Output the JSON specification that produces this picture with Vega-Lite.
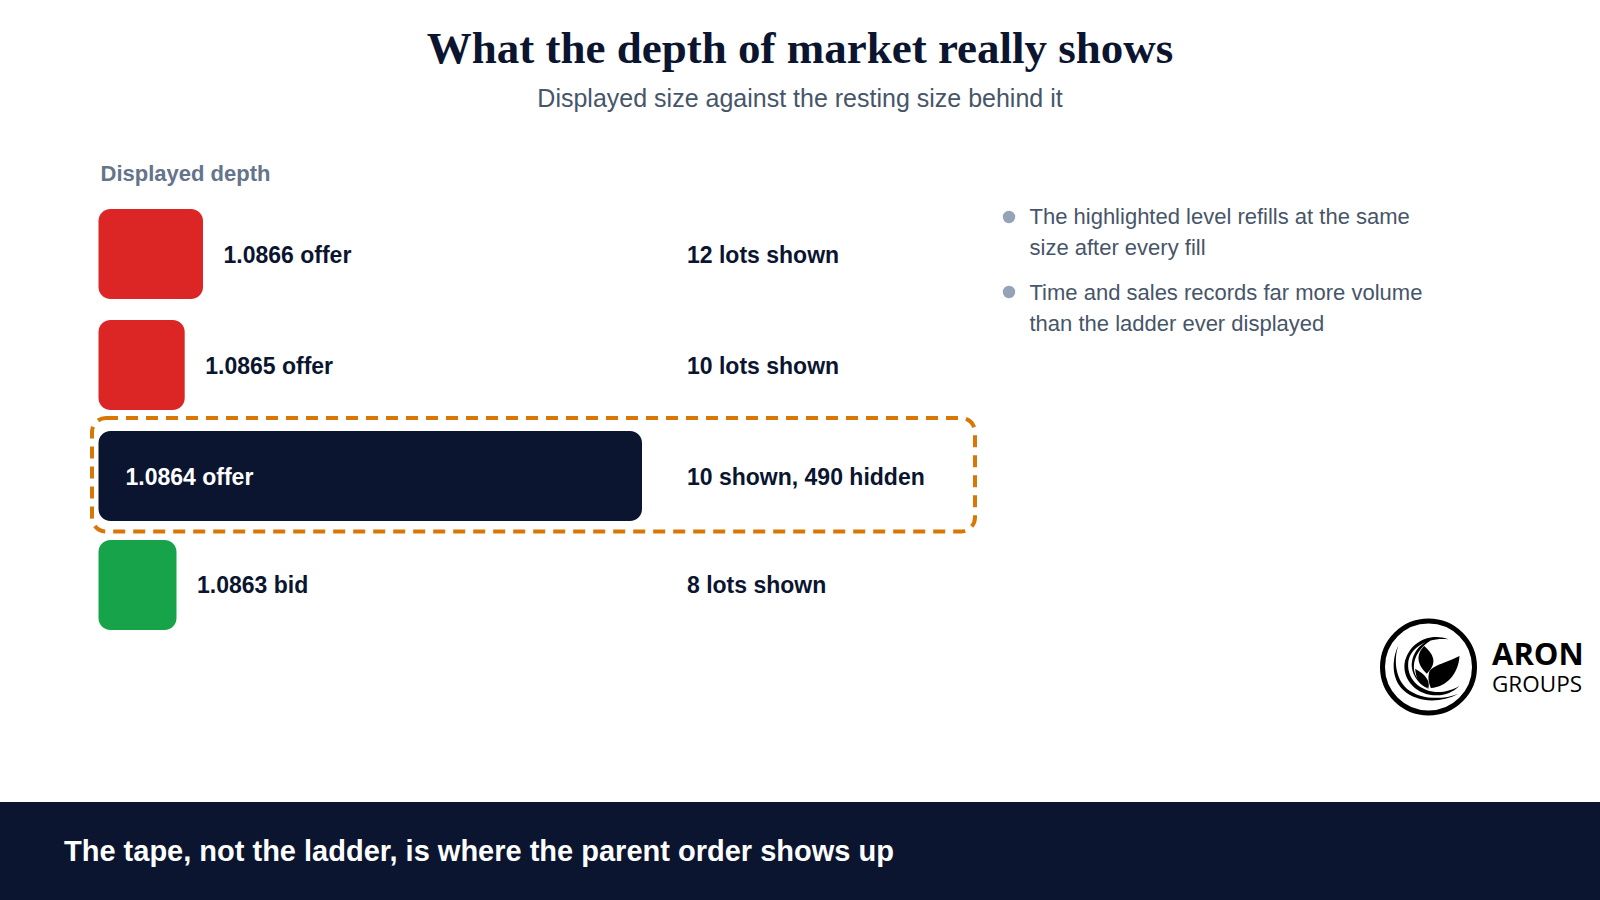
{
"$schema":"https://vega.github.io/schema/vega-lite/v6.json",
"width":1600,"height":760,"autosize":"none","padding":{"top":140,"left":0,"right":0,"bottom":0},
"background":"white",
"config":{"view":{"stroke":null},"font":"Liberation Sans"},
"title":{"text":"What the depth of market really shows","subtitle":"Displayed size against the resting size behind it","anchor":"middle","frame":"group","font":"Liberation Serif","fontSize":45,"fontWeight":"bold","color":"#0b1530","subtitleFont":"Liberation Sans","subtitleFontSize":25,"subtitleColor":"#475569","subtitlePadding":15,"offset":28},
"datasets":{"rows":[
{"price":1.0866,"side":"offer","level":"1.0866 offer","lots":12,"note":"12 lots shown","focus":false},
{"price":1.0865,"side":"offer","level":"1.0865 offer","lots":10,"note":"10 lots shown","focus":false},
{"price":1.0864,"side":"hidden","level":"1.0864 offer","lots":500,"note":"10 shown, 490 hidden","focus":true},
{"price":1.0863,"side":"bid","level":"1.0863 bid","lots":8,"note":"8 lots shown","focus":false}]},
"resolve":{"scale":{"x":"independent","y":"independent"}},
"layer":[
{"data":{"values":[{"a":1}]},"mark":{"type":"rect","fill":"#0b1530"},"encoding":{"x":{"datum":0,"type":"quantitative","scale":{"domain":[0,1600],"range":[0,1600]},"axis":null},"x2":{"datum":1600},"y":{"datum":802,"type":"quantitative","scale":{"domain":[140,900],"range":[0,760]},"axis":null},"y2":{"datum":900}}},
{"data":{"name":"rows"},"mark":{"type":"bar","orient":"horizontal","size":90,"cornerRadius":12},"encoding":{
"x":{"field":"lots","type":"quantitative","stack":null,"scale":{"domain":[0,8,10,12,500],"range":[98.5,176.5,184.7,203,642],"padding":0},"axis":null},
"y":{"field":"price","type":"quantitative","scale":{"domain":[1.0863,1.0864,1.0865,1.0866],"range":[445,336,225,114],"padding":0},"axis":null},
"color":{"field":"side","type":"nominal","scale":{"domain":["offer","hidden","bid"],"range":["#dc2626","#0b1530","#16a34a"]},"legend":null}}},
{"data":{"name":"rows"},"transform":[{"filter":"!datum.focus"}],"mark":{"type":"text","align":"left","baseline":"middle","dx":20.5,"dy":2,"fontSize":23,"fontWeight":"bold","fill":"#0b1530"},"encoding":{
"x":{"field":"lots","type":"quantitative","scale":{"domain":[0,8,10,12,500],"range":[98.5,176.5,184.7,203,642]},"axis":null},
"y":{"field":"price","type":"quantitative","scale":{"domain":[1.0863,1.0864,1.0865,1.0866],"range":[444,336,225,114]},"axis":null},
"text":{"field":"level"}}},
{"data":{"name":"rows"},"transform":[{"filter":"datum.focus"}],"mark":{"type":"text","align":"left","baseline":"middle","dy":2,"fontSize":23,"fontWeight":"bold","fill":"#ffffff"},"encoding":{
"x":{"datum":125.5,"type":"quantitative","scale":{"domain":[0,1600],"range":[0,1600]},"axis":null},
"y":{"field":"price","type":"quantitative","scale":{"domain":[1.0863,1.0864,1.0865,1.0866],"range":[444,336,225,114]},"axis":null},
"text":{"field":"level"}}},
{"data":{"name":"rows"},"mark":{"type":"text","align":"left","baseline":"middle","dy":2,"fontSize":23,"fontWeight":"bold","fill":"#0b1530"},"encoding":{
"x":{"datum":687,"type":"quantitative","scale":{"domain":[0,1600],"range":[0,1600]},"axis":null},
"y":{"field":"price","type":"quantitative","scale":{"domain":[1.0863,1.0864,1.0865,1.0866],"range":[444,336,225,114]},"axis":null},
"text":{"field":"note"}}},
{"data":{"values":[{"a":1}]},"mark":{"type":"rect","fill":null,"stroke":"#d97706","strokeWidth":4,"strokeDash":[12,8],"cornerRadius":14},"encoding":{"x":{"datum":92,"type":"quantitative","scale":{"domain":[0,1600],"range":[0,1600]},"axis":null},"x2":{"datum":975},"y":{"datum":418,"type":"quantitative","scale":{"domain":[140,900],"range":[0,760]},"axis":null},"y2":{"datum":531.5}}},
{"data":{"values":[{"t":"Displayed depth"}]},"mark":{"type":"text","align":"left","baseline":"middle","fontSize":22,"fontWeight":"bold","fill":"#64748b"},"encoding":{"x":{"datum":100.5,"type":"quantitative","scale":{"domain":[0,1600],"range":[0,1600]},"axis":null},"y":{"datum":174,"type":"quantitative","scale":{"domain":[140,900],"range":[0,760]},"axis":null},"text":{"field":"t"}}},
{"data":{"values":[{"t":"The highlighted level refills at the same\nsize after every fill"}]},"mark":{"type":"text","align":"left","baseline":"middle","lineBreak":"\n","lineHeight":31.5,"fontSize":22,"fill":"#475569"},"encoding":{"x":{"datum":1029.5,"type":"quantitative","scale":{"domain":[0,1600],"range":[0,1600]},"axis":null},"y":{"datum":216.5,"type":"quantitative","scale":{"domain":[140,900],"range":[0,760]},"axis":null},"text":{"field":"t"}}},
{"data":{"values":[{"t":"Time and sales records far more volume\nthan the ladder ever displayed"}]},"mark":{"type":"text","align":"left","baseline":"middle","lineBreak":"\n","lineHeight":31.5,"fontSize":22,"fill":"#475569"},"encoding":{"x":{"datum":1029.5,"type":"quantitative","scale":{"domain":[0,1600],"range":[0,1600]},"axis":null},"y":{"datum":292.5,"type":"quantitative","scale":{"domain":[140,900],"range":[0,760]},"axis":null},"text":{"field":"t"}}},
{"data":{"values":[{"bullet":1},{"bullet":2}]},"mark":{"type":"point","shape":"circle","filled":true,"fill":"#94a3b8","opacity":1,"size":154},"encoding":{"x":{"datum":1009,"type":"quantitative","scale":{"domain":[0,1600],"range":[0,1600]},"axis":null},"y":{"field":"bullet","type":"quantitative","scale":{"domain":[1,2],"range":[77,152]},"axis":null}}},
{"data":{"values":[{"t":"The tape, not the ladder, is where the parent order shows up"}]},"mark":{"type":"text","align":"left","baseline":"middle","fontSize":29,"fontWeight":"bold","fill":"#ffffff"},"encoding":{"x":{"datum":64,"type":"quantitative","scale":{"domain":[0,1600],"range":[0,1600]},"axis":null},"y":{"datum":851.5,"type":"quantitative","scale":{"domain":[140,900],"range":[0,760]},"axis":null},"text":{"field":"t"}}},
{"data":{"values":[{"a":1}]},"mark":{"type":"point","shape":"circle","filled":false,"stroke":"#000000","strokeWidth":5,"opacity":1,"size":8464},"encoding":{"x":{"datum":1428.5,"type":"quantitative","scale":{"domain":[0,1600],"range":[0,1600]},"axis":null},"y":{"datum":667,"type":"quantitative","scale":{"domain":[140,900],"range":[0,760]},"axis":null}}},
{"data":{"values":[{"a":1}]},"mark":{"type":"point","filled":true,"fill":"#000000","strokeWidth":0,"opacity":1,"size":0.444,"shape":"M60,-83 C5,-105 -60,-75 -72,-10 C-77,40 -35,85 25,85 C50,85 75,75 93,57 C70,70 50,75 30,75 C-20,75 -64,40 -61,-10 C-58,-60 0,-90 60,-83Z M10,-82 C-30,-72 -52,-35 -50,0 C-47,30 -25,55 5,68 C-25,50 -44,28 -44,0 C-44,-30 -25,-62 10,-82Z M-90,-65 C-110,-25 -113,35 -75,70 C-35,107 35,110 90,80 C40,100 -25,97 -65,65 C-100,35 -105,-25 -90,-65Z"},"encoding":{"x":{"datum":1428.5,"type":"quantitative","scale":{"domain":[0,1600],"range":[0,1600]},"axis":null},"y":{"datum":667,"type":"quantitative","scale":{"domain":[140,900],"range":[0,760]},"axis":null}}},
{"data":{"values":[{"a":1}]},"mark":{"type":"point","filled":true,"fill":"#000000","strokeWidth":0,"opacity":1,"size":0.444,"shape":"M-13,-63 C-36,-40 -38,-10 -5,20 C20,-5 25,-30 -13,-63Z"},"encoding":{"x":{"datum":1428.5,"type":"quantitative","scale":{"domain":[0,1600],"range":[0,1600]},"axis":null},"y":{"datum":667,"type":"quantitative","scale":{"domain":[140,900],"range":[0,760]},"axis":null}}},
{"data":{"values":[{"a":1}]},"mark":{"type":"point","filled":true,"fill":"#000000","strokeWidth":0,"opacity":1,"size":0.444,"shape":"M93,-33 C50,-10 5,-5 1,20 C-3,40 5,55 7,63 C55,60 90,20 93,-33Z"},"encoding":{"x":{"datum":1428.5,"type":"quantitative","scale":{"domain":[0,1600],"range":[0,1600]},"axis":null},"y":{"datum":667,"type":"quantitative","scale":{"domain":[140,900],"range":[0,760]},"axis":null}}},
{"data":{"values":[{"a":1}]},"mark":{"type":"point","filled":true,"fill":"#000000","strokeWidth":0,"opacity":1,"size":0.444,"shape":"M-40,5 C-38,35 -28,55 0,63 C5,40 -10,22 -40,5Z"},"encoding":{"x":{"datum":1428.5,"type":"quantitative","scale":{"domain":[0,1600],"range":[0,1600]},"axis":null},"y":{"datum":667,"type":"quantitative","scale":{"domain":[140,900],"range":[0,760]},"axis":null}}},
{"data":{"values":[{"t":"ARON"}]},"mark":{"type":"text","align":"left","baseline":"middle","font":"Open Sans","fontSize":31,"fontWeight":"bold","fill":"#000000"},"encoding":{"x":{"datum":1492,"type":"quantitative","scale":{"domain":[0,1600],"range":[0,1600]},"axis":null},"y":{"datum":656,"type":"quantitative","scale":{"domain":[140,900],"range":[0,760]},"axis":null},"text":{"field":"t"}}},
{"data":{"values":[{"t":"GROUPS"}]},"mark":{"type":"text","align":"left","baseline":"middle","font":"Open Sans","fontSize":22.5,"fill":"#000000"},"encoding":{"x":{"datum":1492,"type":"quantitative","scale":{"domain":[0,1600],"range":[0,1600]},"axis":null},"y":{"datum":685,"type":"quantitative","scale":{"domain":[140,900],"range":[0,760]},"axis":null},"text":{"field":"t"}}}
]}
